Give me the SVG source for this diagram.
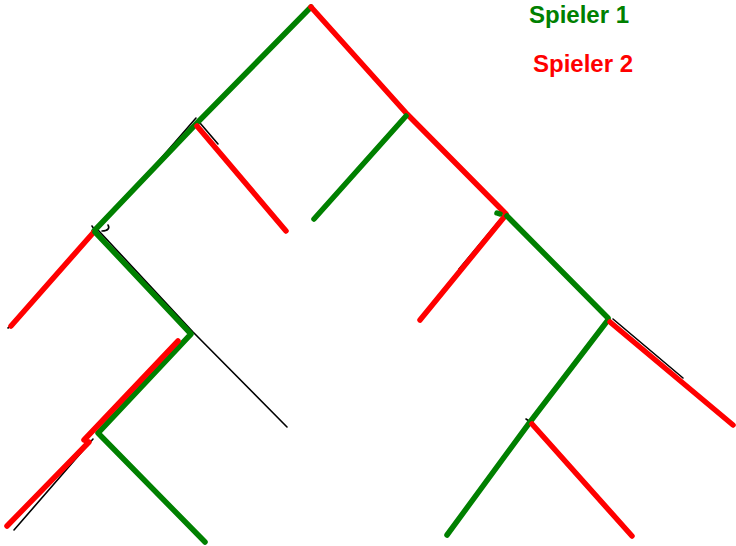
<svg xmlns="http://www.w3.org/2000/svg" width="736" height="546" viewBox="0 0 736 546">
<style>
.g{stroke:#008000;stroke-width:5.5;fill:none;stroke-linecap:round;stroke-linejoin:round}
.r{stroke:#ff0000;stroke-width:5.5;fill:none;stroke-linecap:round;stroke-linejoin:round}
.k{stroke:#000;stroke-width:1.6;fill:none;stroke-linecap:round;stroke-linejoin:round}
.lbl{font-family:"Liberation Sans",Arial,sans-serif;font-weight:bold;font-size:24px}
</style>
<rect width="736" height="546" fill="#fff"/>
<g id="sketch">
<path class="k" d="M149 172 L196 118"/>
<path class="k" d="M200 123 L218 144"/>
<path class="k" d="M92 226 L94 229 M102 231 C108 231 110 228 108 225"/>
<path class="k" d="M98 230 L193 332 L287 427"/>
<path class="k" d="M93 439 L14 530"/>
<path class="k" d="M8 328 L12 325"/>
<path class="k" d="M499 221 L459 269"/>
<path class="k" d="M613 319 L683 378"/>
<path class="k" d="M604 325 L595 338"/>
<path class="k" d="M526 419 L529 421"/>
</g>
<g id="connectors">
<polyline id="e-root-A-C" class="g" points="311,7 196,124 94,231"/>
<polyline id="e-root-B-E" class="r" points="311,7 407,114 506,214"/>
<line id="e-A-red" class="r" x1="197" y1="126" x2="286" y2="231"/>
<line id="e-B-green" class="g" x1="406" y1="116" x2="314" y2="219"/>
<line id="e-C-red" class="r" x1="93" y1="233" x2="11" y2="326"/>
<polyline id="e-C-D-H" class="g" points="95,232 191,334 98,433 205,542"/>
<polyline id="e-D-red" class="r" points="178,341 84,440 89,442 7,526"/>
<line id="e-E-red" class="r" x1="505" y1="216" x2="420" y2="320"/>
<line id="e-E-green" class="g" x1="507" y1="216" x2="608" y2="318"/>
<polyline id="e-F-G-green" class="g" points="608,320 530,422 447,535"/>
<line id="e-F-red" class="r" x1="610" y1="322" x2="733" y2="425"/>
<line id="e-G-red" class="r" x1="532" y1="424" x2="632" y2="536"/>
<line class="g" x1="497" y1="213" x2="500" y2="214"/>
</g>
<g id="legend">
<text class="lbl" x="529" y="23" fill="#008000">Spieler 1</text>
<text class="lbl" x="533" y="72" fill="#ff0000">Spieler 2</text>
</g>
</svg>
